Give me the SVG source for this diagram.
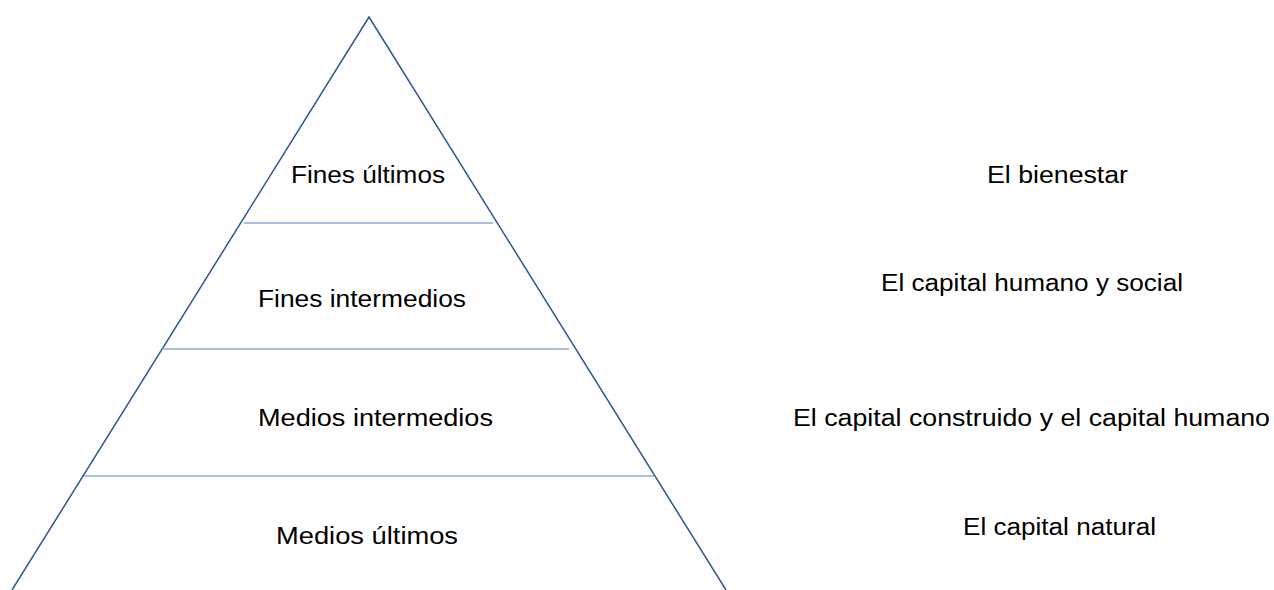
<svg xmlns="http://www.w3.org/2000/svg" width="1274" height="590" viewBox="0 0 1274 590">
<style>
.edge{fill:none;stroke:#2f5597;stroke-width:1.5}
.div{stroke:#8faadc;stroke-width:1.3}
text{font-family:"Liberation Sans",Arial,sans-serif;font-size:23px;fill:#000}
</style>
<rect width="1274" height="590" fill="#fff"/>
<g id="connectors">
<polyline class="edge" points="12,590 369,17 726,590"/>
<line class="div" x1="244" y1="223" x2="493" y2="223"/>
<line class="div" x1="162" y1="349" x2="569" y2="349"/>
<line class="div" x1="84" y1="476" x2="654" y2="476"/>
</g>
<g id="level1"><text x="291" y="183" textLength="154" lengthAdjust="spacingAndGlyphs">Fines últimos</text></g>
<g id="level2"><text x="258" y="307" textLength="208" lengthAdjust="spacingAndGlyphs">Fines intermedios</text></g>
<g id="level3"><text x="258" y="426" textLength="235" lengthAdjust="spacingAndGlyphs">Medios intermedios</text></g>
<g id="level4"><text x="276" y="544" textLength="182" lengthAdjust="spacingAndGlyphs">Medios últimos</text></g>
<g id="label1"><text x="987" y="183" textLength="141" lengthAdjust="spacingAndGlyphs">El bienestar</text></g>
<g id="label2"><text x="881" y="291" textLength="302" lengthAdjust="spacingAndGlyphs">El capital humano y social</text></g>
<g id="label3"><text x="793" y="426" textLength="477" lengthAdjust="spacingAndGlyphs">El capital construido y el capital humano</text></g>
<g id="label4"><text x="963" y="535" textLength="193" lengthAdjust="spacingAndGlyphs">El capital natural</text></g>
</svg>
